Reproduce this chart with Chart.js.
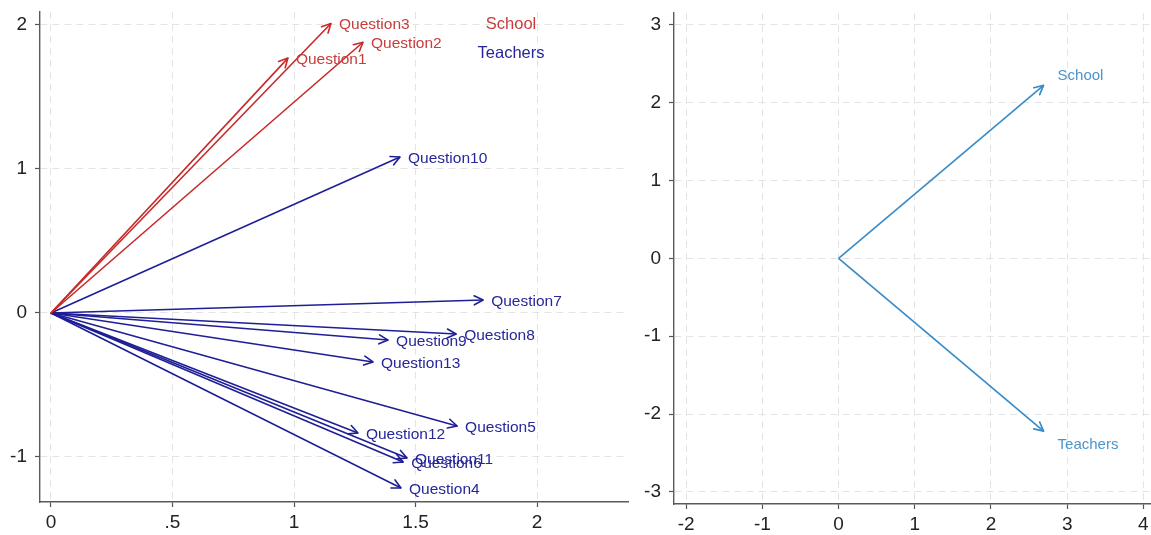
<!DOCTYPE html>
<html><head><meta charset="utf-8">
<script src="https://cdn.jsdelivr.net/npm/chart.js@4.4.1/dist/chart.umd.min.js"></script>
<style>
html,body{margin:0;padding:0;background:#fff;overflow:hidden;width:1151px;height:535px;}
canvas{position:absolute;top:0;}
#c1{left:0;}
#c2{left:634px;}
</style></head><body>
<canvas id="c1" width="634" height="535"></canvas>
<canvas id="c2" width="517" height="535"></canvas>
<script>
// ---- data ----
const questionLabels = ['Question1','Question2','Question3','Question4','Question5','Question6','Question7','Question8','Question9','Question10','Question11','Question12','Question13'];
const questionX = [0.975, 1.284, 1.152, 1.440, 1.671, 1.449, 1.778, 1.667, 1.387, 1.436, 1.465, 1.263, 1.325];
const questionY = [1.770, 1.880, 2.010, -1.215, -0.785, -1.035, 0.090, -0.146, -0.188, 1.083, -1.007, -0.833, -0.340];
const questionGroup = ['School','School','School','Teachers','Teachers','Teachers','Teachers','Teachers','Teachers','Teachers','Teachers','Teachers','Teachers'];
const groupLabels = ['School','Teachers'];
const groupX = [2.69, 2.69];
const groupY = [2.22, -2.22];
const leftXTicks = [0, 0.5, 1, 1.5, 2];
const leftXTickLabels = ['0', '.5', '1', '1.5', '2'];
const leftYTicks = [-1, 0, 1, 2];
const rightXTicks = [-2, -1, 0, 1, 2, 3, 4];
const rightYTicks = [-3, -2, -1, 0, 1, 2, 3];

// ---- styles ----
const RED = '#c82828';
const RED_TXT = '#c83c3c';
const BLUE = '#1e1e96';
const BLUE_TXT = '#26269a';
const LBLUE = '#3a8cc8';
const LBLUE_TXT = '#4a94cc';
const groupColor = {School: RED, Teachers: BLUE};
const groupTextColor = {School: RED_TXT, Teachers: BLUE_TXT};
const FONT = "'Liberation Sans', Arial, sans-serif";

const arrowPlugin = {
  id: 'arrows',
  afterDatasetsDraw(chart, args, opts) {
    const ctx = chart.ctx;
    chart.data.datasets.forEach((ds, i) => {
      const meta = chart.getDatasetMeta(i);
      const p0 = meta.data[0], p1 = meta.data[1];
      const ang = Math.atan2(p1.y - p0.y, p1.x - p0.x);
      const L = opts.headLen, A = opts.headAngle;
      ctx.save();
      ctx.strokeStyle = ds.borderColor;
      ctx.lineWidth = ds.borderWidth;
      ctx.lineCap = 'round';
      ctx.beginPath();
      [-1, 1].forEach(s => {
        ctx.moveTo(p1.x, p1.y);
        ctx.lineTo(p1.x - L * Math.cos(ang + s * A), p1.y - L * Math.sin(ang + s * A));
      });
      ctx.stroke();
      ctx.restore();
    });
    chart.data.datasets.forEach((ds, i) => {
      const meta = chart.getDatasetMeta(i);
      const p1 = meta.data[1];
      ctx.save();
      ctx.fillStyle = ds.labelColor;
      ctx.font = opts.font;
      ctx.textAlign = 'left';
      ctx.textBaseline = 'middle';
      const v = ds.data[1].y;
      const dy = opts.vertical ? (v >= 0 ? -opts.dyUp : opts.dyDown) : opts.dy;
      ctx.fillText(ds.label, p1.x + opts.dx, p1.y + dy);
      ctx.restore();
    });
  }
};

const keyPlugin = {
  id: 'key',
  afterDraw(chart, args, opts) {
    if (!opts.items) return;
    const ctx = chart.ctx, a = chart.chartArea;
    ctx.save();
    ctx.font = opts.font;
    ctx.textAlign = 'center';
    ctx.textBaseline = 'middle';
    opts.items.forEach((it, k) => {
      ctx.fillStyle = it.color;
      ctx.fillText(it.text, a.right + opts.cx, a.top + opts.top + k * opts.gap);
    });
    ctx.restore();
  }
};

function axis(min, max, ticks, labels, isX, size) {
  return {
    type: 'linear',
    min: min, max: max,
    afterBuildTicks: s => { s.ticks = ticks.map(v => ({value: v})); },
    afterFit: s => {
      if (isX) s.height = size; else s.width = size;
      s.paddingLeft = 0; s.paddingRight = 0; s.paddingTop = 0; s.paddingBottom = 0;
    },
    grid: {
      color: '#e4e4e4',
      lineWidth: 1,
      drawTicks: true,
      tickLength: 5,
      tickColor: '#555',
      tickWidth: 1.2,
      tickBorderDash: []
    },
    border: { display: true, color: '#5a5a5a', width: 1.4, dash: [7, 5] },
    ticks: {
      color: '#222',
      padding: isX ? 4 : 8,
      font: { family: FONT, size: 19 },
      maxRotation: 0,
      autoSkip: false,
      callback: (v) => {
        const k = ticks.indexOf(v);
        return labels ? labels[k] : String(v);
      }
    }
  };
}

// ---- left chart ----
const leftDatasets = questionLabels.map((q, i) => ({
  label: q,
  data: [{x: 0, y: 0}, {x: questionX[i], y: questionY[i]}],
  showLine: true,
  borderColor: groupColor[questionGroup[i]],
  labelColor: groupTextColor[questionGroup[i]],
  borderWidth: 1.6,
  pointRadius: 0,
  fill: false
}));

new Chart(document.getElementById('c1'), {
  type: 'scatter',
  data: { datasets: leftDatasets },
  options: {
    responsive: false,
    animation: false,
    layout: { padding: { top: 12, right: 6, left: 0, bottom: 0 } },
    plugins: {
      legend: { display: false },
      tooltip: { enabled: false },
      arrows: { headLen: 10, headAngle: 0.47, font: "15.5px " + FONT, dx: 8, dy: 1.5 },
      key: {
        font: "16.5px " + FONT, cx: -117, top: 12, gap: 29,
        items: groupLabels.map(g => ({ text: g, color: groupTextColor[g] }))
      }
    },
    scales: {
      x: axis(-0.045, 2.374, leftXTicks, leftXTickLabels, true, 33),
      y: axis(-1.3125, 2.09, leftYTicks, null, false, 40)
    }
  },
  plugins: [arrowPlugin, keyPlugin]
});

// ---- right chart ----
const rightDatasets = groupLabels.map((g, i) => ({
  label: g,
  data: [{x: 0, y: 0}, {x: groupX[i], y: groupY[i]}],
  showLine: true,
  borderColor: LBLUE,
  labelColor: LBLUE_TXT,
  borderWidth: 1.7,
  pointRadius: 0,
  fill: false
}));

new Chart(document.getElementById('c2'), {
  type: 'scatter',
  data: { datasets: rightDatasets },
  options: {
    responsive: false,
    animation: false,
    layout: { padding: { top: 13, right: 0, left: 0, bottom: 0 } },
    plugins: {
      legend: { display: false },
      tooltip: { enabled: false },
      arrows: { headLen: 10, headAngle: 0.47, font: "15px " + FONT, dx: 14, dyUp: 10, dyDown: 13.5, vertical: true },
      key: {}
    },
    scales: {
      x: axis(-2.16, 4.10, rightXTicks, null, true, 31),
      y: axis(-3.155, 3.15, rightYTicks, null, false, 40)
    }
  },
  plugins: [arrowPlugin, keyPlugin]
});
</script>
</body></html>
